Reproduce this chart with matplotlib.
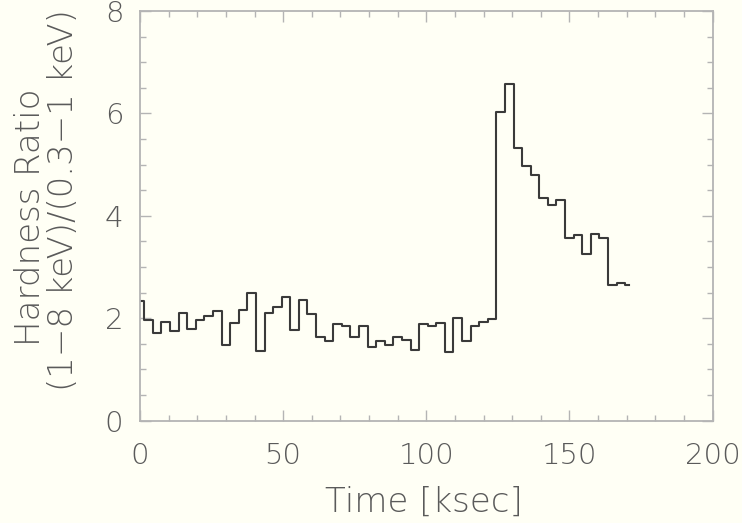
import numpy as np
import matplotlib.pyplot as plt
from matplotlib.ticker import MultipleLocator

# hardness ratio light curve, 3 ksec bins
time_ksec = np.arange(0, 172, 3)
hardness = [2.33, 1.96, 1.71, 1.92, 1.76, 2.10, 1.79, 1.97, 2.05, 2.15,
            1.48, 1.90, 2.17, 2.49, 1.37, 2.11, 2.22, 2.41, 1.77, 2.35,
            2.09, 1.64, 1.55, 1.89, 1.85, 1.63, 1.84, 1.43, 1.56, 1.47,
            1.63, 1.58, 1.38, 1.89, 1.84, 1.91, 1.35, 2.00, 1.55, 1.85,
            1.92, 1.98, 6.02, 6.58, 5.33, 4.98, 4.79, 4.35, 4.22, 4.31,
            3.57, 3.63, 3.26, 3.65, 3.57, 2.64, 2.68, 2.65]

bg = '#fffff5'
txt = '#5a5a5a'
axcol = '#b4b4b4'
fs = 21      # tick labels
lfs = 24.5   # axis titles

plt.rcParams['font.family'] = ['DejaVu Sans']

fig = plt.figure(figsize=(7.42, 5.23), dpi=100, facecolor=bg)
ax = fig.add_axes([140/742, 1-420.7/523, (712.5-140)/742, (420.7-11)/523])
ax.set_facecolor(bg)

ax.step(time_ksec, hardness, where='mid', color='#3a3a3a', lw=1.5)

ax.set_xlim(0, 200)
ax.set_ylim(0, 8)
ax.xaxis.set_major_locator(MultipleLocator(50))
ax.xaxis.set_minor_locator(MultipleLocator(10))
ax.yaxis.set_major_locator(MultipleLocator(2))
ax.yaxis.set_minor_locator(MultipleLocator(0.5))

for s in ax.spines.values():
    s.set_color(axcol)
    s.set_linewidth(1.3)

ax.tick_params(which='both', direction='in', top=True, right=True,
               color=axcol, width=1.0, labelcolor=txt, labelsize=fs)
ax.tick_params(which='major', length=8)
ax.tick_params(which='minor', length=4)
ax.tick_params(axis='x', which='major', pad=15)
ax.tick_params(axis='y', which='major', pad=12)

for lab in ax.get_xticklabels() + ax.get_yticklabels():
    lab.set_fontweight('light')

fig.text(424/742, 1-502/523, 'Time [ksec]', ha='center', va='center',
         fontsize=lfs, color=txt, fontweight='light')
fig.text(31/742, 1-217/523, 'Hardness Ratio', ha='center', va='center',
         rotation=90, fontsize=lfs, color=txt, fontweight='light')
fig.text(64/742, 1-200/523, '(1\u22128 keV)/(0.3\u22121 keV)', ha='center',
         va='center', rotation=90, fontsize=lfs, color=txt, fontweight='light')

fig.savefig('out.png', dpi=100, facecolor=bg)
